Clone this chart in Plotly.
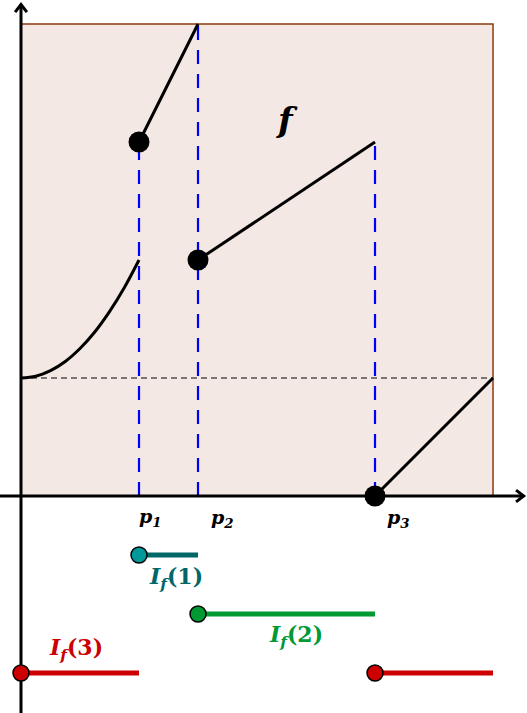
import plotly.graph_objects as go

# piecewise function f on [0, 8]
curve_x = [0, 0.25, 0.5, 0.75, 1.0, 1.25, 1.5, 1.75, 2.0]
curve_y = [2.0, 2.03, 2.125, 2.28, 2.5, 2.78, 3.125, 3.53, 4.0]
seg1_x, seg1_y = [2, 3], [6, 8]
seg2_x, seg2_y = [3, 6], [4, 6]
seg3_x, seg3_y = [6, 8], [0, 2]
dots_x, dots_y = [2, 3, 6], [6, 4, 0]

# partition points
p_x = [2, 3, 6]
p_top = [6, 8, 6]
p_labels = ["p<sub>1</sub>", "p<sub>2</sub>", "p<sub>3</sub>"]

# intervals I_f(k)
if1_x, if1_y = [2, 3], [-1, -1]
if2_x, if2_y = [3, 6], [-2, -2]
if3a_x, if3a_y = [0, 2], [-3, -3]
if3b_x, if3b_y = [6, 8], [-3, -3]

teal, teal_dark = "#009999", "#006666"
green = "#009933"
red = "#cc0000"
serif = "DejaVu Serif"

fig = go.Figure()

fig.add_shape(type="rect", x0=0, y0=0, x1=8, y1=8, fillcolor="#f4e8e4",
              line=dict(color="#8b3a10", width=1.5), layer="below")

# horizontal dashed reference
fig.add_trace(go.Scatter(x=[0, 8], y=[2, 2], mode="lines",
                         line=dict(color="black", width=1, dash="6px,4px")))

# blue dashed verticals
for px_, top in zip(p_x, p_top):
    fig.add_trace(go.Scatter(x=[px_, px_], y=[0, top], mode="lines",
                             line=dict(color="#0000ff", width=2.2, dash="14px,10px")))

# axes with open arrow heads
fig.add_trace(go.Scatter(x=[0, 0], y=[-3.9, 8.33], mode="lines",
                         line=dict(color="black", width=3)))
fig.add_trace(go.Scatter(x=[-0.4, 8.52], y=[0, 0], mode="lines",
                         line=dict(color="black", width=3)))
fig.add_trace(go.Scatter(x=[-0.1, 0, 0.1], y=[8.2, 8.33, 8.2], mode="lines",
                         line=dict(color="black", width=3)))
fig.add_trace(go.Scatter(x=[8.39, 8.52, 8.39], y=[0.1, 0, -0.1], mode="lines",
                         line=dict(color="black", width=3)))

# graph of f
for xs, ys in [(curve_x, curve_y), (seg1_x, seg1_y), (seg2_x, seg2_y), (seg3_x, seg3_y)]:
    fig.add_trace(go.Scatter(x=xs, y=ys, mode="lines",
                             line=dict(color="black", width=3, shape="spline")))
fig.add_trace(go.Scatter(x=dots_x, y=dots_y, mode="markers",
                         marker=dict(color="black", size=21)))

# intervals
for xs, ys, lc, mc in [(if1_x, if1_y, teal_dark, teal), (if2_x, if2_y, green, green),
                       (if3a_x, if3a_y, red, red), (if3b_x, if3b_y, red, red)]:
    fig.add_trace(go.Scatter(x=xs, y=ys, mode="lines",
                             line=dict(color=lc, width=5)))
    fig.add_trace(go.Scatter(x=xs[:1], y=ys[:1], mode="markers",
                             marker=dict(color=mc, size=16, line=dict(color="black", width=1.5))))

# labels
fig.add_annotation(x=4.5, y=6.37, text="<b><i>f</i></b>", showarrow=False,
                   font=dict(family=serif, size=34, color="black"))
for (lx, ly), t in zip([(2.2, -0.36), (3.42, -0.38), (6.39, -0.38)], p_labels):
    fig.add_annotation(x=lx, y=ly, text=f"<b><i>{t}</i></b>", showarrow=False,
                       font=dict(family=serif, size=19, color="black"))
fig.add_annotation(x=2.63, y=-1.39, text="<b><i>I<sub>f</sub></i>(1)</b>", showarrow=False,
                   font=dict(family=serif, size=22, color=teal_dark))
fig.add_annotation(x=4.66, y=-2.37, text="<b><i>I<sub>f</sub></i>(2)</b>", showarrow=False,
                   font=dict(family=serif, size=22, color=green))
fig.add_annotation(x=0.93, y=-2.59, text="<b><i>I<sub>f</sub></i>(3)</b>", showarrow=False,
                   font=dict(family=serif, size=22, color=red))

fig.update_layout(
    width=527, height=713, margin=dict(l=0, r=0, t=0, b=0),
    plot_bgcolor="white", paper_bgcolor="white", showlegend=False,
    xaxis=dict(range=[-0.356, 8.576], visible=False, fixedrange=True),
    yaxis=dict(range=[-3.678, 8.407], visible=False, fixedrange=True),
)

# drop the default body margin so the figure fills the window
fig.write_html("out.html", config={"displayModeBar": False},
               post_script="document.body.style.margin='0';")
